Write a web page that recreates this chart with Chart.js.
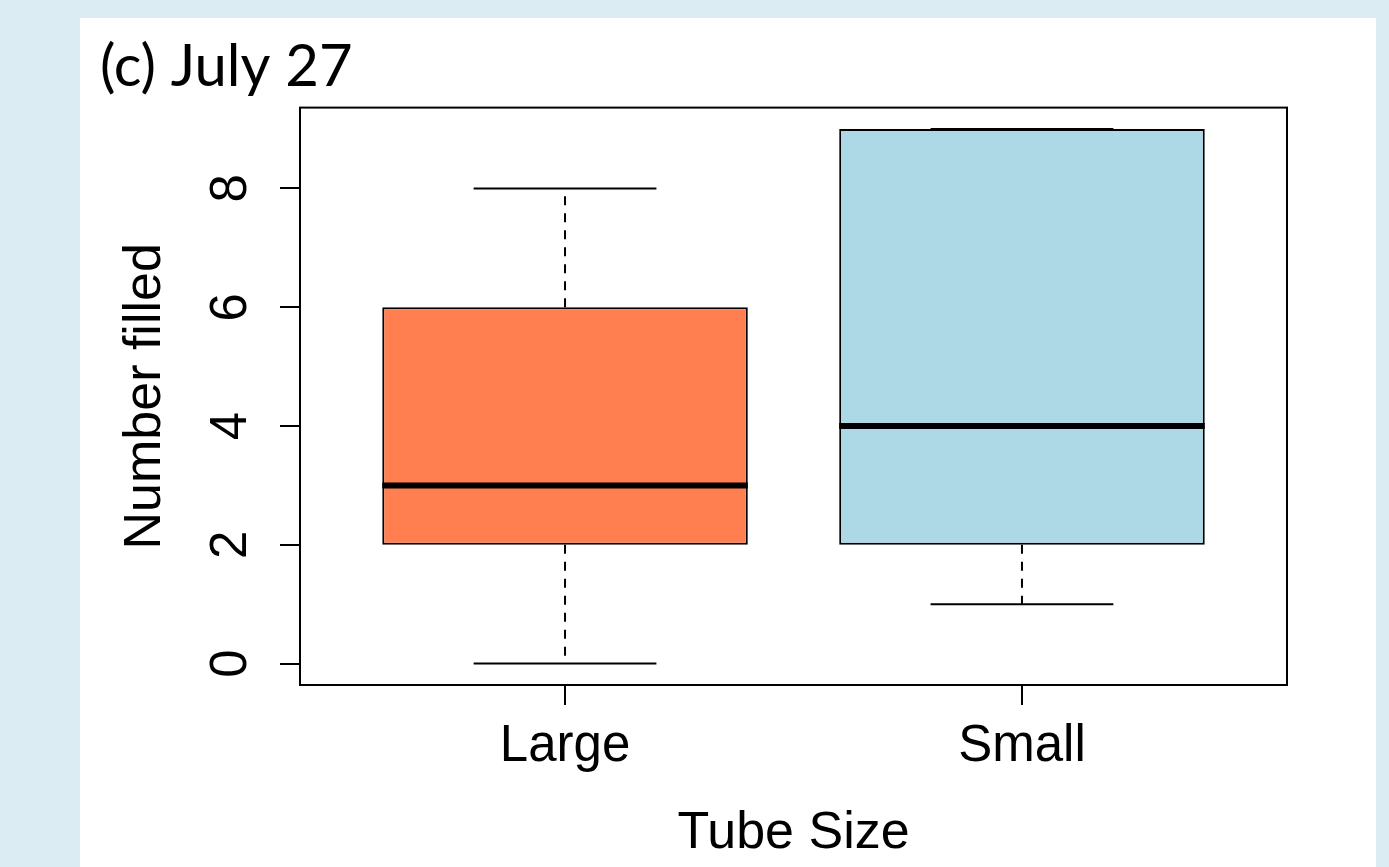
<!DOCTYPE html>
<html>
<head>
<meta charset="utf-8">
<script src="https://cdn.jsdelivr.net/npm/chart.js@4/dist/chart.umd.min.js"></script>
<style>
  html, body { margin: 0; padding: 0; background: #dbedf3; overflow: hidden; }
  #panel { position: absolute; left: 80px; top: 18px; width: 1296px; height: 849px; background: #fff; }
  #wrap { position: absolute; left: 0; top: 0; width: 1389px; height: 867px; }
</style>
</head>
<body>
<div id="panel"></div>
<div id="wrap"><canvas id="chart" width="1389" height="867"></canvas></div>
<script>
const categories = ['Large', 'Small'];
const mins = [0, 1];
const q1s = [2, 2];
const medians = [3, 4];
const q3s = [6, 9];
const maxs = [8, 9];
const boxColors = ['#ff7f50', '#add8e6'];
const yTicks = [0, 2, 4, 6, 8];

const FONT = "'Liberation Sans', Arial, sans-serif";

// whiskers, caps and medians drawn from the data through the chart scales
const boxExtras = {
  id: 'boxExtras',
  afterDatasetsDraw(chart) {
    const {ctx, scales: {x, y}} = chart;
    const bars = chart.getDatasetMeta(0).data;
    ctx.save();
    ctx.strokeStyle = '#000';
    categories.forEach((c, i) => {
      const px = x.getPixelForValue(i + 1);
      const half = bars[i].width / 2;
      const capHalf = half / 2;
      // dashed whiskers
      ctx.lineWidth = 2;
      ctx.setLineDash([9, 8]);
      ctx.beginPath();
      ctx.moveTo(px, y.getPixelForValue(q3s[i]));
      ctx.lineTo(px, y.getPixelForValue(maxs[i]));
      ctx.moveTo(px, y.getPixelForValue(q1s[i]));
      ctx.lineTo(px, y.getPixelForValue(mins[i]));
      ctx.stroke();
      // caps
      ctx.setLineDash([]);
      ctx.beginPath();
      [mins[i], maxs[i]].forEach(v => {
        const py = y.getPixelForValue(v);
        ctx.moveTo(px - capHalf, py);
        ctx.lineTo(px + capHalf, py);
      });
      ctx.stroke();
      // median
      ctx.lineWidth = 6;
      ctx.beginPath();
      const my = y.getPixelForValue(medians[i]);
      ctx.moveTo(px - half, my);
      ctx.lineTo(px + half, my);
      ctx.stroke();
    });
    // plot frame
    const a = chart.chartArea;
    ctx.lineWidth = 2;
    ctx.strokeRect(a.left, a.top, a.right - a.left, a.bottom - a.top);
    ctx.restore();
  }
};

new Chart(document.getElementById('chart'), {
  type: 'bar',
  data: {
    datasets: [{
      data: categories.map((c, i) => ({x: i + 1, y: [q1s[i], q3s[i]]})),
      backgroundColor: boxColors,
      borderColor: '#000',
      borderWidth: 2,
      borderSkipped: false,
      barPercentage: 0.8,
      categoryPercentage: 1
    }]
  },
  options: {
    responsive: false,
    animation: false,
    layout: { padding: { left: 100, right: 102, top: 0, bottom: 0 } },
    plugins: {
      legend: { display: false },
      tooltip: { enabled: false },
      title: {
        display: true,
        text: '(c) July 27',
        align: 'start',
        color: '#000',
        font: { family: "Lato, 'Open Sans', sans-serif", size: 58, weight: 'normal', lineHeight: 1.2 },
        padding: { top: 32, bottom: 6 }
      }
    },
    scales: {
      x: {
        type: 'linear',
        min: 0.42,
        max: 2.58,
        offset: false,
        afterBuildTicks: s => { s.ticks = categories.map((c, i) => ({value: i + 1})); },
        afterFit: s => { s.height = 182; },
        border: { display: false },
        grid: { offset: false, drawOnChartArea: false, drawTicks: true, tickLength: 20, color: '#000', lineWidth: 2 },
        ticks: {
          color: '#000',
          padding: 11,
          maxRotation: 0,
          font: { family: FONT, size: 51 },
          callback: (v, i) => categories[i]
        },
        title: {
          display: true,
          text: 'Tube Size',
          color: '#000',
          font: { family: FONT, size: 52 },
          padding: { top: 0, bottom: 2 }
        }
      },
      y: {
        type: 'linear',
        min: -0.36,
        max: 9.36,
        afterBuildTicks: s => { s.ticks = yTicks.map(v => ({value: v})); },
        afterFit: s => { s.width = 200; },
        border: { display: false },
        grid: { drawOnChartArea: false, drawTicks: true, tickLength: 20, color: '#000', lineWidth: 2 },
        ticks: {
          color: '#000',
          padding: 34,
          minRotation: 90,
          maxRotation: 90,
          crossAlign: 'center',
          font: { family: FONT, size: 51 },
          callback: v => String(v)
        },
        title: {
          display: true,
          text: 'Number filled',
          color: '#000',
          font: { family: FONT, size: 52 },
          padding: { top: 14, bottom: 0 }
        }
      }
    }
  },
  plugins: [boxExtras]
});
</script>
</body>
</html>
